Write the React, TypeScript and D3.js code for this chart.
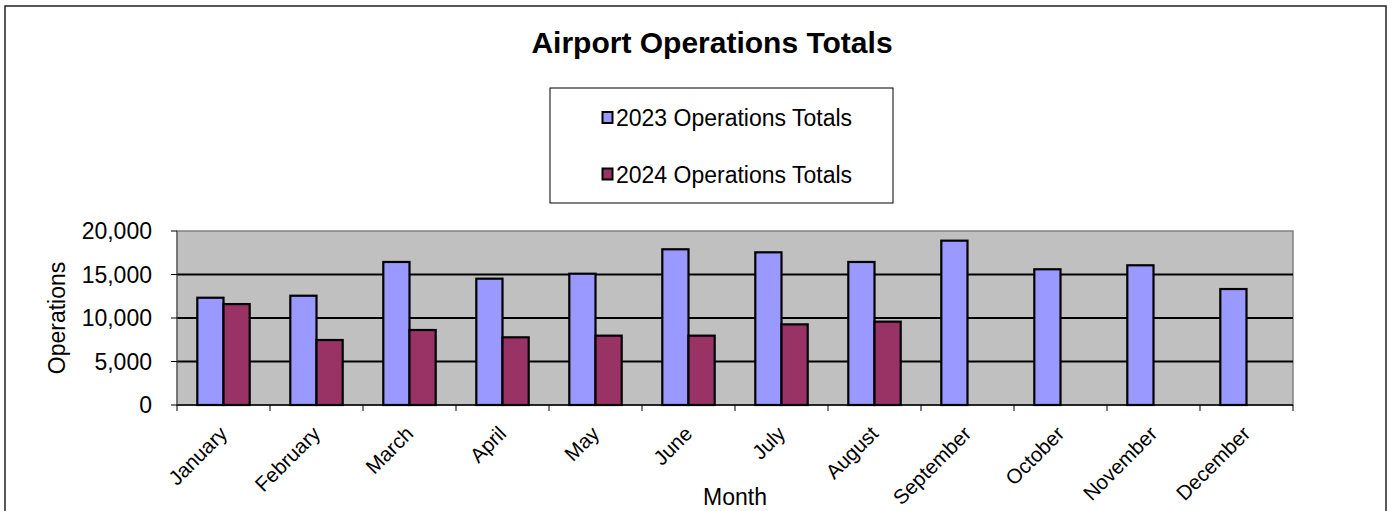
import React from "react";
import * as d3 from "d3";

const months = ["January","February","March","April","May","June","July","August","September","October","November","December"];
const ops2023 = [12330, 12560, 16440, 14520, 15090, 17900, 17550, 16440, 18890, 15600, 16060, 13330];
const ops2024: (number | null)[] = [11600, 7470, 8620, 7780, 7970, 7970, 9270, 9580, null, null, null, null];
const yTicks = [0, 5000, 10000, 15000, 20000];
const seriesNames = ["2023 Operations Totals", "2024 Operations Totals"];
const colors = ["#9999FF", "#993366"];

export default function App() {
  const W = 1392, H = 511;
  const left = 177, right = 1293, top = 231, bottom = 405;
  const x = d3.scaleBand<string>().domain(months).range([left, right]).paddingInner(0).paddingOuter(0);
  const bw = x.bandwidth();
  const inner = d3.scaleBand<string>().domain(["0", "1"]).range([0, bw]).paddingOuter(0.775).paddingInner(0);
  const y = d3.scaleLinear().domain([0, 20000]).range([bottom, top]);
  const fmt = d3.format(",");
  const font = "Liberation Sans, Arial, sans-serif";
  const series = [ops2023, ops2024];

  return (
    <svg width={W} height={H} style={{ position: "absolute", left: 0, top: 0 }} fontFamily={font}>
      <rect x={0} y={0} width={W} height={H} fill="#fff" />
      <rect x={5} y={6} width={1381} height={600} fill="none" stroke="#222" strokeWidth={1.5} />
      <text x={712} y={53} textAnchor="middle" fontSize={30} fontWeight="bold">Airport Operations Totals</text>
      {/* legend */}
      <rect x={550} y={88} width={343} height={115} fill="#fff" stroke="#000" strokeWidth={1} />
      {seriesNames.map((n, i) => (
        <g key={n}>
          <rect x={602.5} y={112 + i * 56.5} width={10} height={11} fill={colors[i]} stroke="#000" strokeWidth={2} />
          <text x={616} y={126 + i * 57} fontSize={23}>{n}</text>
        </g>
      ))}
      {/* plot area */}
      <rect x={left} y={top} width={right - left} height={bottom - top} fill="#C0C0C0" stroke="#808080" strokeWidth={1.5} />
      {yTicks.filter(t => t > 0 && t < 20000).map(t => (
        <line key={t} x1={left} x2={right} y1={y(t)} y2={y(t)} stroke="#000" strokeWidth={2} />
      ))}
      {months.map((m, mi) => series.map((s, si) => {
        const v = s[mi];
        if (v == null) return null;
        const bx = (x(m) as number) + (inner(String(si)) as number);
        return <rect key={m + si} x={bx} y={y(v)} width={inner.bandwidth()} height={bottom - y(v)} fill={colors[si]} stroke="#000" strokeWidth={2.2} />;
      }))}
      {/* axes */}
      <line x1={left} x2={right} y1={bottom} y2={bottom} stroke="#000" strokeWidth={1.5} />
      <line x1={left} x2={left} y1={top} y2={bottom} stroke="#555" strokeWidth={1} />
      {yTicks.map(t => (
        <g key={t}>
          <line x1={left - 6} x2={left} y1={y(t)} y2={y(t)} stroke="#000" strokeWidth={1} />
          <text x={152} y={y(t) + 8} textAnchor="end" fontSize={23}>{fmt(t)}</text>
        </g>
      ))}
      {d3.range(months.length + 1).map(i => {
        const tx = left + i * bw;
        return <line key={i} x1={tx} x2={tx} y1={bottom} y2={bottom + 6} stroke="#000" strokeWidth={1} />;
      })}
      {months.map(m => {
        const cx = (x(m) as number) + bw / 2 + 5;
        return (
          <text key={m} transform={`translate(${cx},${bottom + 30}) rotate(-45)`} textAnchor="end" fontSize={20.5}>{m}</text>
        );
      })}
      <text x={735} y={505} textAnchor="middle" fontSize={23}>Month</text>
      <text transform={`translate(65,318) rotate(-90)`} textAnchor="middle" fontSize={23}>Operations</text>
    </svg>
  );
}
